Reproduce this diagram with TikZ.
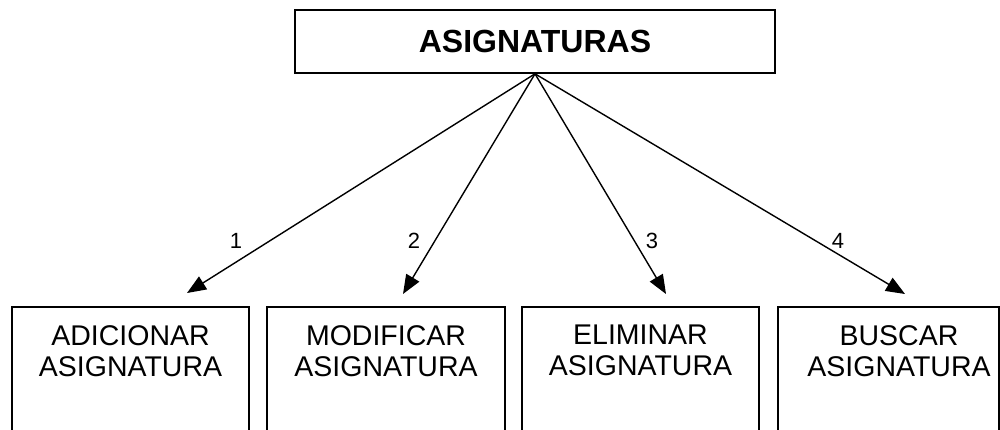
\documentclass[tikz,border=0pt]{standalone}
\usepackage{fontspec}
\setmainfont{Liberation Sans}
\usetikzlibrary{arrows.meta}
\begin{document}
\begin{tikzpicture}[x=1pt,y=-1pt,
  topbox/.style={draw,line width=1.6pt,minimum width=480pt,minimum height=63pt,inner sep=0pt,font=\fontsize{32}{36}\selectfont\bfseries},
  subbox/.style={draw,line width=1.5pt,minimum height=160pt,anchor=north,inner sep=0pt},
  subtext/.style={anchor=north,align=center,inner sep=0pt,font=\fontsize{28.5}{31}\selectfont},
  conn/.style={line width=1.4pt,-{Triangle[length=19pt,width=15pt]}},
  numlab/.style={font=\fontsize{22}{25}\selectfont,inner sep=0pt}]
\clip (0,0) rectangle (1000,429);
\fill[white] (0,0) rectangle (1000,429);
\node[topbox] (top) at (535,41.5) {ASIGNATURAS};
\node[subbox,minimum width=237pt] (b1) at (130.5,306) {};
\node[subbox,minimum width=238pt] (b2) at (386,306) {};
\node[subbox,minimum width=237pt] (b3) at (640.5,306) {};
\node[subbox,minimum width=221pt] (b4) at (888.5,306) {};
\node[subtext] (t1) at (130.5,325) {ADICIONAR\\ASIGNATURA};
\node[subtext] (t2) at (386,325) {MODIFICAR\\ASIGNATURA};
\node[subtext] (t3) at (640.5,325) {ELIMINAR\\ASIGNATURA};
\node[subtext] (t4) at (899,325) {BUSCAR\\ASIGNATURA};
\coordinate (e1) at (187,293);
\coordinate (e2) at (403,294);
\coordinate (e3) at (666,294);
\coordinate (e4) at (905,294);
\draw[conn] (top.south) -- (e1);
\draw[conn] (top.south) -- (e2);
\draw[conn] (top.south) -- (e3);
\draw[conn] (top.south) -- (e4);
\node[numlab] (n1) at (236,241) {1};
\node[numlab] (n2) at (414,241) {2};
\node[numlab] (n3) at (652,241) {3};
\node[numlab] (n4) at (838,241) {4};
\end{tikzpicture}
\end{document}
